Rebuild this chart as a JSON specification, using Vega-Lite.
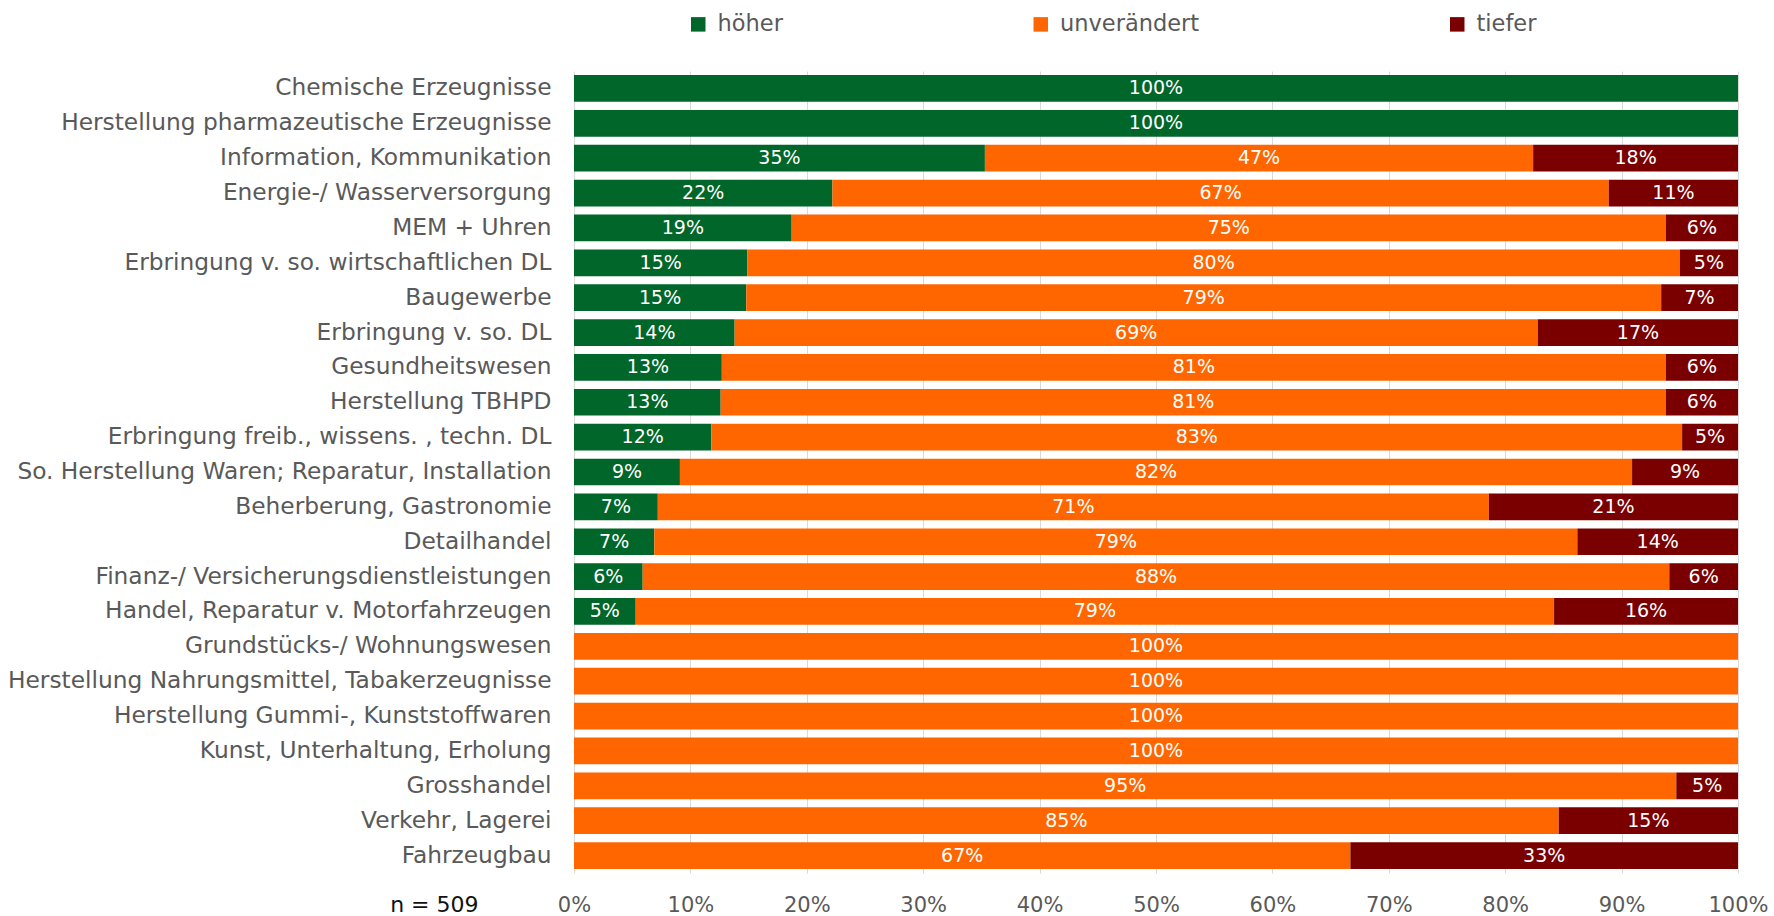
{
  "$schema": "https://vega.github.io/schema/vega-lite/v6.json",
  "width": 1164,
  "height": 802,
  "autosize": "none",
  "padding": {"left": 574, "top": 71, "right": 36, "bottom": 43},
  "background": "white",
  "config": {
    "view": {"stroke": null},
    "font": "DejaVu Sans"
  },
  "data": {
    "values": [
      {"c": "Chemische Erzeugnisse", "k": "höher", "o": 1, "v": 1.0},
      {"c": "Herstellung pharmazeutische Erzeugnisse", "k": "höher", "o": 1, "v": 1.0},
      {"c": "Information, Kommunikation", "k": "höher", "o": 1, "v": 0.353},
      {"c": "Information, Kommunikation", "k": "unverändert", "o": 2, "v": 0.471},
      {"c": "Information, Kommunikation", "k": "tiefer", "o": 3, "v": 0.176},
      {"c": "Energie-/ Wasserversorgung", "k": "höher", "o": 1, "v": 0.222},
      {"c": "Energie-/ Wasserversorgung", "k": "unverändert", "o": 2, "v": 0.667},
      {"c": "Energie-/ Wasserversorgung", "k": "tiefer", "o": 3, "v": 0.111},
      {"c": "MEM + Uhren", "k": "höher", "o": 1, "v": 0.187},
      {"c": "MEM + Uhren", "k": "unverändert", "o": 2, "v": 0.751},
      {"c": "MEM + Uhren", "k": "tiefer", "o": 3, "v": 0.062},
      {"c": "Erbringung  v. so. wirtschaftlichen DL", "k": "höher", "o": 1, "v": 0.149},
      {"c": "Erbringung  v. so. wirtschaftlichen DL", "k": "unverändert", "o": 2, "v": 0.801},
      {"c": "Erbringung  v. so. wirtschaftlichen DL", "k": "tiefer", "o": 3, "v": 0.05},
      {"c": "Baugewerbe", "k": "höher", "o": 1, "v": 0.148},
      {"c": "Baugewerbe", "k": "unverändert", "o": 2, "v": 0.786},
      {"c": "Baugewerbe", "k": "tiefer", "o": 3, "v": 0.066},
      {"c": "Erbringung v. so. DL", "k": "höher", "o": 1, "v": 0.138},
      {"c": "Erbringung v. so. DL", "k": "unverändert", "o": 2, "v": 0.69},
      {"c": "Erbringung v. so. DL", "k": "tiefer", "o": 3, "v": 0.172},
      {"c": "Gesundheitswesen", "k": "höher", "o": 1, "v": 0.127},
      {"c": "Gesundheitswesen", "k": "unverändert", "o": 2, "v": 0.811},
      {"c": "Gesundheitswesen", "k": "tiefer", "o": 3, "v": 0.062},
      {"c": "Herstellung TBHPD", "k": "höher", "o": 1, "v": 0.126},
      {"c": "Herstellung TBHPD", "k": "unverändert", "o": 2, "v": 0.812},
      {"c": "Herstellung TBHPD", "k": "tiefer", "o": 3, "v": 0.062},
      {"c": "Erbringung freib., wissens. , techn. DL", "k": "höher", "o": 1, "v": 0.118},
      {"c": "Erbringung freib., wissens. , techn. DL", "k": "unverändert", "o": 2, "v": 0.834},
      {"c": "Erbringung freib., wissens. , techn. DL", "k": "tiefer", "o": 3, "v": 0.048},
      {"c": "So. Herstellung Waren; Reparatur, Installation", "k": "höher", "o": 1, "v": 0.091},
      {"c": "So. Herstellung Waren; Reparatur, Installation", "k": "unverändert", "o": 2, "v": 0.818},
      {"c": "So. Herstellung Waren; Reparatur, Installation", "k": "tiefer", "o": 3, "v": 0.091},
      {"c": "Beherberung, Gastronomie", "k": "höher", "o": 1, "v": 0.072},
      {"c": "Beherberung, Gastronomie", "k": "unverändert", "o": 2, "v": 0.714},
      {"c": "Beherberung, Gastronomie", "k": "tiefer", "o": 3, "v": 0.214},
      {"c": "Detailhandel", "k": "höher", "o": 1, "v": 0.069},
      {"c": "Detailhandel", "k": "unverändert", "o": 2, "v": 0.793},
      {"c": "Detailhandel", "k": "tiefer", "o": 3, "v": 0.138},
      {"c": "Finanz-/ Versicherungsdienstleistungen", "k": "höher", "o": 1, "v": 0.059},
      {"c": "Finanz-/ Versicherungsdienstleistungen", "k": "unverändert", "o": 2, "v": 0.882},
      {"c": "Finanz-/ Versicherungsdienstleistungen", "k": "tiefer", "o": 3, "v": 0.059},
      {"c": "Handel, Reparatur v. Motorfahrzeugen", "k": "höher", "o": 1, "v": 0.053},
      {"c": "Handel, Reparatur v. Motorfahrzeugen", "k": "unverändert", "o": 2, "v": 0.789},
      {"c": "Handel, Reparatur v. Motorfahrzeugen", "k": "tiefer", "o": 3, "v": 0.158},
      {"c": "Grundstücks-/ Wohnungswesen", "k": "unverändert", "o": 2, "v": 1.0},
      {"c": "Herstellung Nahrungsmittel, Tabakerzeugnisse", "k": "unverändert", "o": 2, "v": 1.0},
      {"c": "Herstellung Gummi-, Kunststoffwaren", "k": "unverändert", "o": 2, "v": 1.0},
      {"c": "Kunst, Unterhaltung, Erholung", "k": "unverändert", "o": 2, "v": 1.0},
      {"c": "Grosshandel", "k": "unverändert", "o": 2, "v": 0.947},
      {"c": "Grosshandel", "k": "tiefer", "o": 3, "v": 0.053},
      {"c": "Verkehr, Lagerei", "k": "unverändert", "o": 2, "v": 0.846},
      {"c": "Verkehr, Lagerei", "k": "tiefer", "o": 3, "v": 0.154},
      {"c": "Fahrzeugbau", "k": "unverändert", "o": 2, "v": 0.667},
      {"c": "Fahrzeugbau", "k": "tiefer", "o": 3, "v": 0.333}
    ]
  },
  "transform": [
    {"stack": "v", "groupby": ["c"], "sort": [{"field": "o", "order": "ascending"}], "as": ["v0", "v1"]},
    {"calculate": "(datum.v0 + datum.v1) / 2", "as": "mid"}
  ],
  "encoding": {
    "y": {
      "field": "c",
      "type": "nominal",
      "sort": null,
      "scale": {"paddingInner": 0.234, "paddingOuter": 0.117},
      "axis": {
        "title": null,
        "domain": false,
        "ticks": false,
        "labelPadding": 23,
        "labelFontSize": 23.3,
        "labelColor": "#595959",
        "labelLimit": 700
      }
    }
  },
  "layer": [
    {
      "mark": {"type": "bar"},
      "encoding": {
        "x": {
          "field": "v0",
          "type": "quantitative",
          "scale": {"domain": [0, 1], "nice": false},
          "axis": {
            "format": ".0%",
            "values": [0, 0.1, 0.2, 0.3, 0.4, 0.5, 0.6, 0.7, 0.8, 0.9, 1.0],
            "grid": true,
            "gridColor": "#d9d9d9",
            "gridWidth": 1,
            "domain": false,
            "ticks": false,
            "labelFlush": false,
            "labelFontSize": 21,
            "labelColor": "#595959",
            "labelBaseline": "alphabetic",
            "labelPadding": 38,
            "title": "n = 509",
            "titleFontSize": 22,
            "titleFontWeight": "normal",
            "titleColor": "#111111",
            "titleX": -96,
            "titleY": 38,
            "titleAlign": "right",
            "titleBaseline": "alphabetic"
          }
        },
        "x2": {"field": "v1"},
        "color": {
          "field": "k",
          "type": "nominal",
          "scale": {
            "domain": ["höher", "unverändert", "tiefer"],
            "range": ["#006629", "#FF6600", "#7A0000"]
          },
          "legend": {
            "title": null,
            "orient": "none",
            "direction": "horizontal",
            "legendX": 113,
            "legendY": -58,
            "padding": 0,
            "symbolType": "square",
            "symbolSize": 210,
            "symbolStrokeWidth": 0,
            "labelFontSize": 22.5,
            "labelColor": "#595959",
            "labelOffset": 8,
            "columnPadding": 246.5
          }
        }
      }
    },
    {
      "mark": {"type": "text", "color": "white", "fontSize": 19, "align": "center", "baseline": "middle"},
      "encoding": {
        "x": {"field": "mid", "type": "quantitative"},
        "text": {"field": "v", "type": "quantitative", "format": ".0%"}
      }
    }
  ]
}
